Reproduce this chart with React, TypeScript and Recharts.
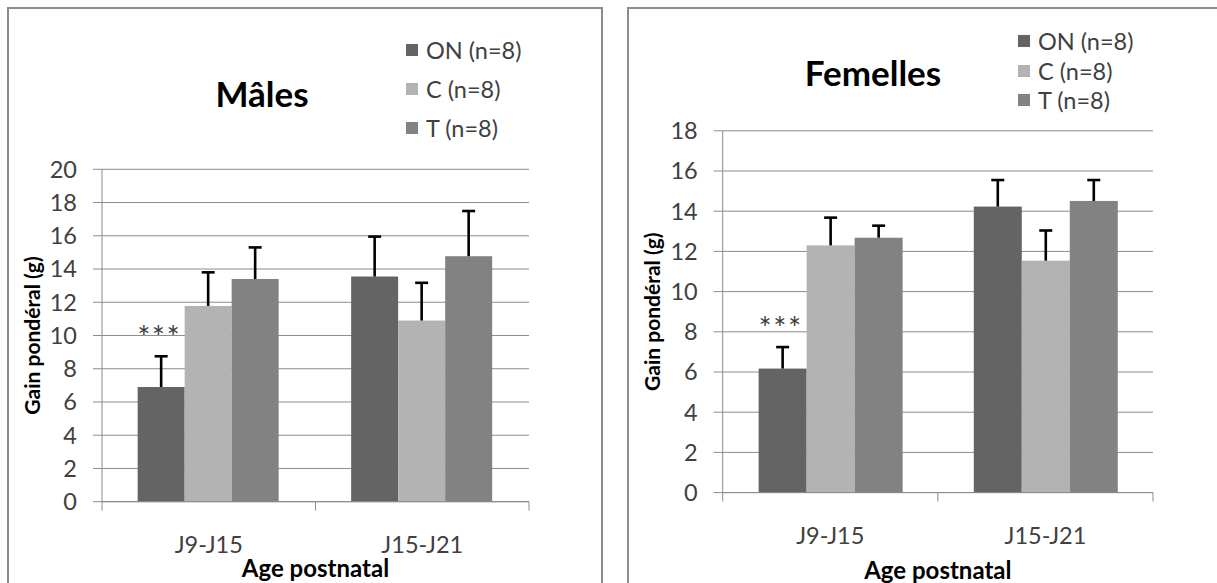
import { BarChart, Bar, XAxis, YAxis, CartesianGrid, Label } from 'recharts'

const categories = ['J9-J15', 'J15-J21']
const significance = ['***', '']
const groups = ['ON (n=8)', 'C (n=8)', 'T (n=8)']

// Mâles
const malesON = [6.9, 13.55]
const malesC = [11.78, 10.9]
const malesT = [13.4, 14.77]
const malesONErr = [1.85, 2.4]
const malesCErr = [2.02, 2.27]
const malesTErr = [1.9, 2.72]
const malesTicks = [0, 2, 4, 6, 8, 10, 12, 14, 16, 18, 20]

// Femelles
const femalesON = [6.17, 14.23]
const femalesC = [12.3, 11.54]
const femalesT = [12.68, 14.51]
const femalesONErr = [1.07, 1.32]
const femalesCErr = [1.38, 1.5]
const femalesTErr = [0.6, 1.04]
const femalesTicks = [0, 2, 4, 6, 8, 10, 12, 14, 16, 18]

const COLORS = ['#646464', '#b3b3b3', '#828282']
const GRID = '#8c8c8c'
const TEXT = '#404040'
const FONT = 'Lato, "Open Sans", sans-serif'
const TICK_SIZE = 9
const TICK_FONT = 23.5

function toRows(on: number[], c: number[], t: number[], onErr: number[], cErr: number[], tErr: number[]) {
  return categories.map((cat, i) => ({
    cat,
    on: on[i], c: c[i], t: t[i],
    onErr: onErr[i], cErr: cErr[i], tErr: tErr[i],
    sig: significance[i],
  }))
}

// bar + upward error bar (Excel style "T"), optional significance stars
function barWithError(valueKey: string, errKey: string, withSig: boolean) {
  return (props: any) => {
    const { x, y, width, height, fill, payload } = props
    const v = payload[valueKey]
    const perUnit = v ? height / v : 0
    const cx = x + width / 2
    const top = y - payload[errKey] * perUnit
    return (
      <g>
        <rect x={x} y={y} width={width} height={height} fill={fill} />
        <line x1={cx} y1={y} x2={cx} y2={top} stroke="#000" strokeWidth={2.6} />
        <line x1={cx - 6.5} y1={top} x2={cx + 6.5} y2={top} stroke="#000" strokeWidth={2.6} />
        {withSig && payload.sig ? (
          <text x={cx - 2} y={top - 8} textAnchor="middle" fontSize={31} fill={TEXT}
            fontFamily={FONT} letterSpacing={1.5}>
            {payload.sig}
          </text>
        ) : null}
      </g>
    )
  }
}

function makeCategoryTick(tickMargin: number) {
  return (props: any) => {
    const { x, y, payload, index, visibleTicksCount } = props
    const half = payload.offset || 0
    const axisY = y - TICK_SIZE - tickMargin
    return (
      <g>
        <line x1={x - half} y1={axisY} x2={x - half} y2={axisY + TICK_SIZE} stroke={GRID} />
        {index === visibleTicksCount - 1 ? (
          <line x1={x + half} y1={axisY} x2={x + half} y2={axisY + TICK_SIZE} stroke={GRID} />
        ) : null}
        <text x={x} y={y} dy="0.71em" textAnchor="middle" fontSize={TICK_FONT} fill={TEXT} fontFamily={FONT}>
          {payload.value}
        </text>
      </g>
    )
  }
}

interface PanelProps {
  title: string
  titleX: number
  titleY: number
  left: number
  width: number
  margin: { top: number; right: number; bottom: number; left: number }
  rows: any[]
  yMax: number
  ticks: number[]
  xTickMargin: number
  ageY: number
  legendX: number
  legendRows: number[]
}

function Panel(p: PanelProps) {
  return (
    <>
      <div style={{
        position: 'absolute', left: p.titleX - 150, top: p.titleY - 20, width: 300, height: 40,
        lineHeight: '40px', textAlign: 'center', fontFamily: FONT, fontWeight: 700, fontSize: 35, color: '#000',
      }}>
        {p.title}
      </div>
      {groups.map((g, i) => (
        <div key={g} style={{
          position: 'absolute', left: p.legendX, top: p.legendRows[i] - 14, height: 28,
          display: 'flex', alignItems: 'center', fontFamily: FONT, fontSize: TICK_FONT, color: TEXT, whiteSpace: 'nowrap',
        }}>
          <span style={{ width: 12, height: 12, background: COLORS[i], marginRight: 8, display: 'inline-block' }} />
          {g}
        </div>
      ))}
      <div style={{ position: 'absolute', left: p.left, top: 0 }}>
        <BarChart width={p.width} height={583} data={p.rows} margin={p.margin}
          barCategoryGap="16.7%" barGap={0}>
          <CartesianGrid vertical={false} stroke={GRID} strokeWidth={1} />
          <XAxis dataKey="cat" height={60} axisLine={{ stroke: GRID }} tickLine={false}
            tickSize={TICK_SIZE} tickMargin={p.xTickMargin} tick={makeCategoryTick(p.xTickMargin)} interval={0}>
            <Label content={(lp: any) => {
              const vb = lp.viewBox
              return (
                <text x={vb.x + vb.width / 2} y={p.ageY} dominantBaseline="central" textAnchor="middle"
                  fontFamily={FONT} fontWeight={700} fontSize={24} fill="#000">
                  Age postnatal
                </text>
              )
            }} />
          </XAxis>
          <YAxis width={100} domain={[0, p.yMax]} ticks={p.ticks} interval={0}
            axisLine={{ stroke: GRID }} tickLine={{ stroke: GRID }} tickSize={TICK_SIZE} tickMargin={16}
            tick={{ fontSize: TICK_FONT, fill: TEXT, fontFamily: FONT }}>
            <Label content={(lp: any) => {
              const vb = lp.viewBox
              const cx = vb.x + vb.width - 71
              const cy = vb.y + vb.height / 2
              return (
                <text x={cx} y={cy} transform={`rotate(-90 ${cx} ${cy})`} dominantBaseline="central"
                  textAnchor="middle" fontFamily={FONT} fontWeight={700} fontSize={21} fill="#000">
                  Gain pondéral (g)
                </text>
              )
            }} />
          </YAxis>
          <Bar dataKey="on" fill={COLORS[0]} isAnimationActive={false} shape={barWithError('on', 'onErr', true)} />
          <Bar dataKey="c" fill={COLORS[1]} isAnimationActive={false} shape={barWithError('c', 'cErr', false)} />
          <Bar dataKey="t" fill={COLORS[2]} isAnimationActive={false} shape={barWithError('t', 'tErr', false)} />
        </BarChart>
      </div>
    </>
  )
}

export default function App() {
  const males = toRows(malesON, malesC, malesT, malesONErr, malesCErr, malesTErr)
  const females = toRows(femalesON, femalesC, femalesT, femalesONErr, femalesCErr, femalesTErr)
  return (
    <div style={{
      position: 'absolute', left: 0, top: 0, width: 1217, height: 583, overflow: 'hidden', background: '#fff',
    }}>
      <div style={{
        position: 'absolute', left: 7, top: 7, width: 592, height: 700,
        border: '2px solid #8c8c8c', borderBottom: 'none',
      }} />
      <div style={{
        position: 'absolute', left: 627, top: 7, width: 700, height: 700,
        border: '2px solid #8c8c8c', borderBottom: 'none',
      }} />
      <Panel title="Mâles" titleX={262} titleY={93} left={0} width={610}
        margin={{ top: 169.3, right: 81, bottom: 21.3, left: 2 }}
        rows={males} yMax={20} ticks={malesTicks} xTickMargin={26} ageY={567}
        legendX={406} legendRows={[50, 89, 128]} />
      <Panel title="Femelles" titleX={873} titleY={72} left={620} width={597}
        margin={{ top: 130.8, right: 64, bottom: 30.4, left: 2.7 }}
        rows={females} yMax={18} ticks={femalesTicks} xTickMargin={26} ageY={569}
        legendX={1018} legendRows={[40.5, 70.5, 99.5]} />
    </div>
  )
}
